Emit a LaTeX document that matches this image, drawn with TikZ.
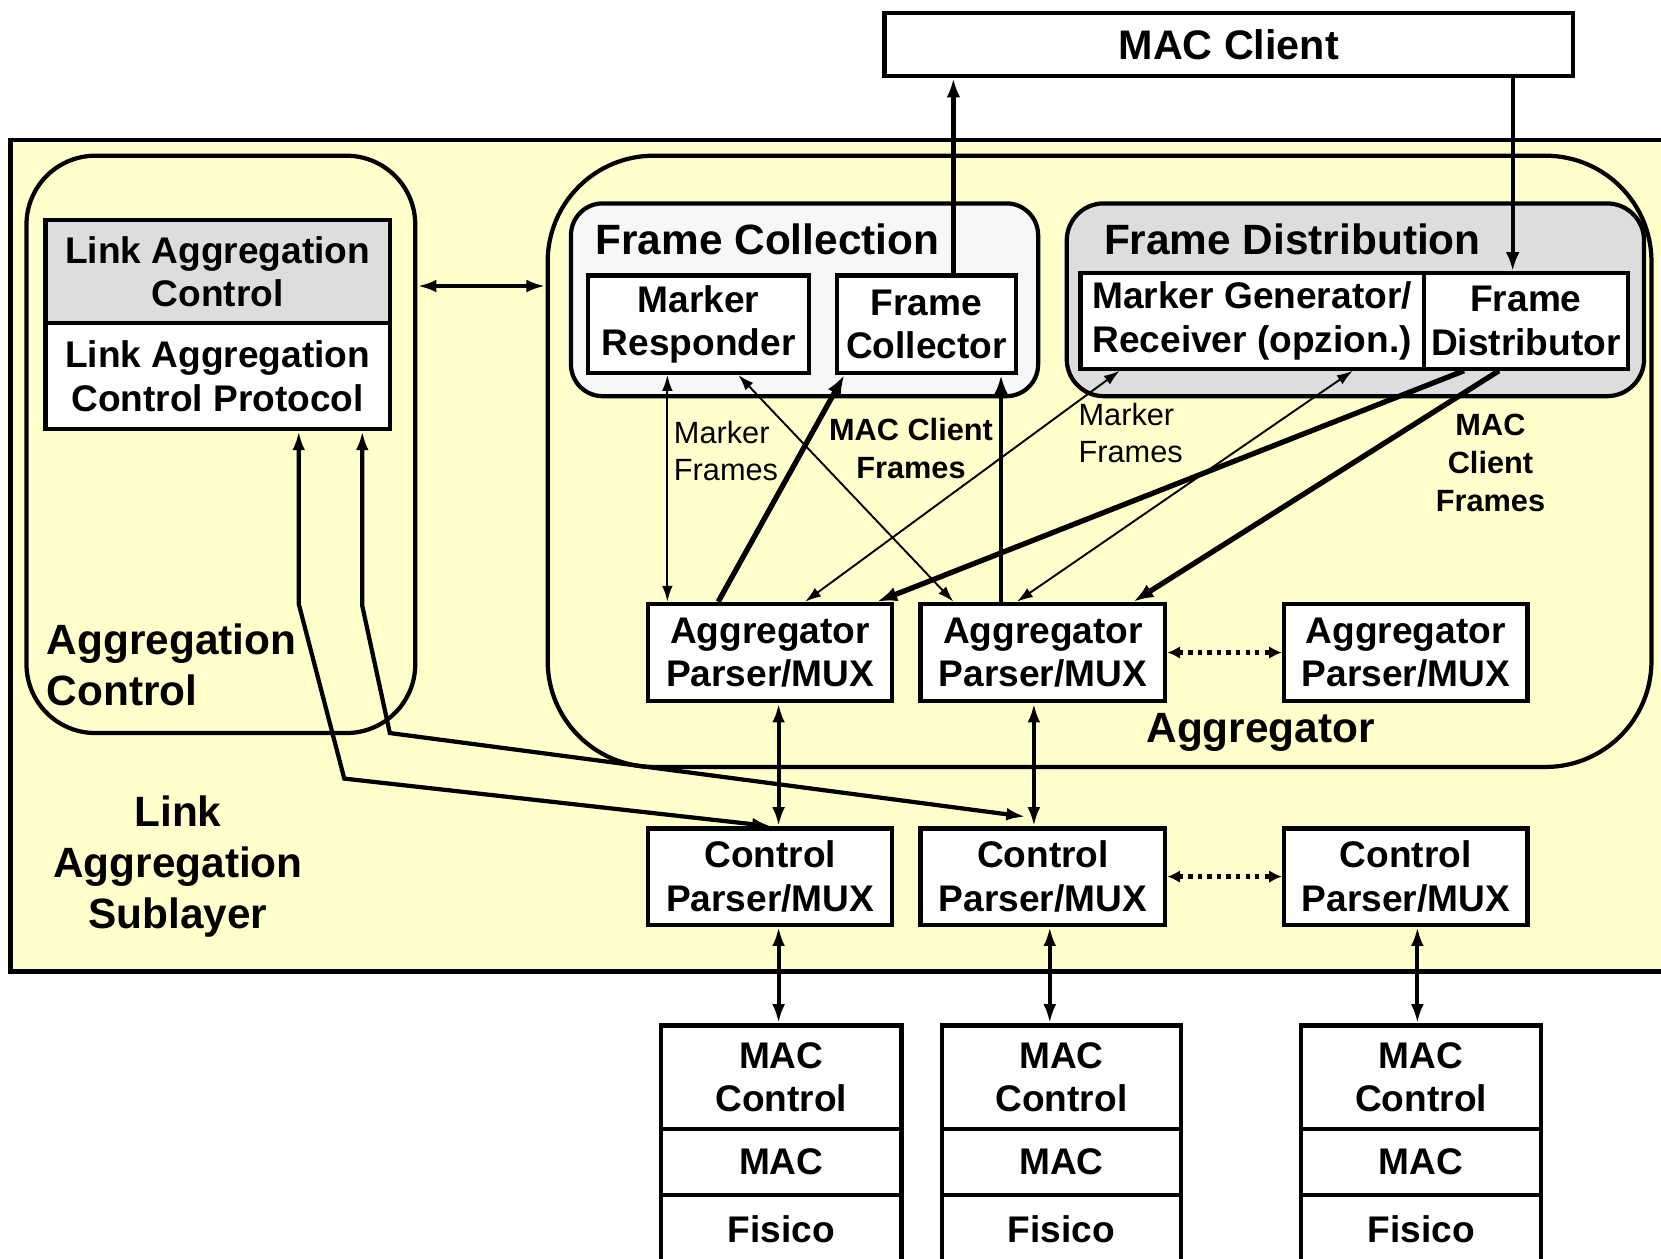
\documentclass[tikz,border=0pt]{standalone}
\usepackage{fontspec}
\setmainfont{Liberation Sans}
\usetikzlibrary{arrows.meta}
\definecolor{ylw}{HTML}{FFFFCC}
\definecolor{gry}{HTML}{DDDDDD}
\definecolor{lgry}{HTML}{F7F7F7}
\begin{document}
\begin{tikzpicture}[x=1pt,y=-1pt,
  every node/.style={inner sep=0pt},
  bx/.style={draw, line width=4pt, fill=white, align=center, anchor=north west,
     font=\fontsize{35}{41}\selectfont\bfseries},
  cont/.style={draw, line width=4pt, anchor=north west, fill=ylw},
  lbl/.style={font=\fontsize{40}{48}\selectfont\bfseries, align=center},
  smallr/.style={font=\fontsize{29}{35}\selectfont, align=left},
  smallb/.style={font=\fontsize{29}{36}\selectfont\bfseries, align=center},
  thinarr/.style={line width=1.8pt, {Latex[length=15pt,width=10pt]}-{Latex[length=15pt,width=10pt]}},
  medarr/.style={line width=3.6pt, {Latex[length=18pt,width=12pt]}-{Latex[length=18pt,width=12pt]}},
  onearr/.style={line width=4pt, -{Latex[length=18pt,width=13pt]}},
  thickarr/.style={line width=5pt, -{Latex[length=19pt,width=14pt]}},
  dotarr/.style={line width=4pt, dash pattern=on 4pt off 5pt, {Latex[length=12pt,width=12pt]}-{Latex[length=12pt,width=12pt]}},
]
\useasboundingbox (0,0) rectangle (1568,1188);
\clip (0,0) rectangle (1568,1188);
\fill[white] (0,0) rectangle (1568,1188);

% containers
\node[cont, minimum width=1620pt, minimum height=785pt] (sub) at (8,130) {};
\node[cont, rounded corners=65pt, minimum width=367pt, minimum height=545pt] (agc) at (23,145) {};
\node[cont, rounded corners=100pt, minimum width=1042pt, minimum height=577pt] (agg) at (515,145) {};
\node[cont, fill=lgry, rounded corners=30pt, minimum width=441pt, minimum height=182pt] (fcol) at (537,190) {};
\node[cont, fill=gry, rounded corners=35pt, minimum width=545pt, minimum height=182pt] (fdis) at (1005,190) {};

% top client
\node[bx, minimum width=650pt, minimum height=60pt, font=\fontsize{39}{46}\selectfont\bfseries] (mc) at (833,10) {MAC Client};

% aggregation control
\node[bx, fill=gry, minimum width=325pt, minimum height=97pt] (lac) at (41,206) {Link Aggregation\\Control};
\node[bx, minimum width=325pt, minimum height=100pt] (lacp) at (41,303) {Link Aggregation\\Control Protocol};

% frame collection / distribution
\node[bx, minimum width=209pt, minimum height=92pt] (mr) at (553,258) {Marker\\Responder};
\node[bx, minimum width=169pt, minimum height=92pt] (fc) at (788,258) {Frame\\Collector};
\node[bx, minimum width=324pt, minimum height=90pt] (mg) at (1018,256) {Marker Generator/\\Receiver (opzion.)};
\node[bx, minimum width=193pt, minimum height=90pt] (fd) at (1342,256) {Frame\\Distributor};

% parser/mux
\node[bx, minimum width=230pt, minimum height=92pt] (ap1) at (610,568) {Aggregator\\Parser/MUX};
\node[bx, minimum width=231pt, minimum height=92pt] (ap2) at (867,568) {Aggregator\\Parser/MUX};
\node[bx, minimum width=230pt, minimum height=92pt] (ap3) at (1210,568) {Aggregator\\Parser/MUX};
\node[bx, minimum width=230pt, minimum height=91pt] (cp1) at (610,780) {Control\\Parser/MUX};
\node[bx, minimum width=231pt, minimum height=91pt] (cp2) at (867,780) {Control\\Parser/MUX};
\node[bx, minimum width=230pt, minimum height=91pt] (cp3) at (1210,780) {Control\\Parser/MUX};

% MAC stacks
\node[bx, minimum width=227pt, minimum height=98pt] (s1a) at (622,966) {MAC\\Control};
\node[bx, minimum width=227pt, minimum height=62pt] (s1b) at (622,1064) {MAC};
\node[bx, minimum width=227pt, minimum height=64pt] (s1c) at (622,1126) {Fisico};
\node[bx, minimum width=226pt, minimum height=98pt] (s2a) at (887,966) {MAC\\Control};
\node[bx, minimum width=226pt, minimum height=62pt] (s2b) at (887,1064) {MAC};
\node[bx, minimum width=226pt, minimum height=64pt] (s2c) at (887,1126) {Fisico};
\node[bx, minimum width=227pt, minimum height=98pt] (s3a) at (1226,966) {MAC\\Control};
\node[bx, minimum width=227pt, minimum height=62pt] (s3b) at (1226,1064) {MAC};
\node[bx, minimum width=227pt, minimum height=64pt] (s3c) at (1226,1126) {Fisico};

% labels
\node[lbl, anchor=west] (tfc) at (562,226) {Frame Collection};
\node[lbl, anchor=west] (tfd) at (1042,226) {Frame Distribution};
\node[lbl, align=left, anchor=west] (tagc) at (44,628) {Aggregation\\Control};
\node[lbl] (tagg) at (1190,691) {Aggregator};
\node[lbl] (tsub) at (168,818) {Link\\Aggregation\\Sublayer};
\node[smallr, anchor=west] (mf1) at (636,426) {Marker\\Frames};
\node[smallb] (cf1) at (860,423) {MAC Client\\Frames};
\node[smallr, anchor=west] (mf2) at (1018,409) {Marker\\Frames};
\node[smallb] (cf2) at (1407,437) {MAC\\Client\\Frames};

% MAC client links
\draw[onearr] ([xshift=112pt]fc.north west) -- ([xshift=67pt]mc.south west);
\draw[onearr] ([xshift=595pt]mc.south west) -- ([xshift=86pt]fd.north west);
\draw[medarr] ([yshift=149.5pt]agc.east) -- ([yshift=165.5pt]agg.west);

% inside aggregator
\draw[thinarr] ([xshift=77pt]mr.south west) -- ([xshift=20pt]ap1.north west);
\draw[thinarr] ([xshift=144pt]mr.south west) -- ([xshift=33pt]ap2.north west);
\draw[thinarr] ([xshift=150pt]ap1.north west) -- ([xshift=39pt]mg.south west);
\draw[thinarr] ([xshift=93pt]ap2.north west) -- ([xshift=259pt]mg.south west);
\draw[thickarr] ([xshift=68pt]ap1.north west) -- ([xshift=9pt]fc.south west);
\draw[onearr] ([xshift=78pt]ap2.north west) -- ([xshift=157pt]fc.south west);
\draw[thickarr] ([xshift=40pt]fd.south west) -- ([xshift=218pt]ap1.north west);
\draw[thickarr] ([xshift=73pt]fd.south west) -- ([xshift=203pt]ap2.north west);

% vertical links
\draw[medarr] ([xshift=125pt]ap1.south west) -- ([xshift=125pt]cp1.north west);
\draw[medarr] ([xshift=109pt]ap2.south west) -- ([xshift=109pt]cp2.north west);
\draw[dotarr] (ap2.east) -- (ap3.west);
\draw[dotarr] (cp2.east) -- (cp3.west);
\draw[medarr] ([xshift=125pt]cp1.south west) -- ([xshift=113pt]s1a.north west);
\draw[medarr] ([xshift=124pt]cp2.south west) -- ([xshift=104pt]s2a.north west);
\draw[medarr] ([xshift=128pt]cp3.south west) -- ([xshift=112pt]s3a.north west);

% LACP links
\coordinate (b1) at (282,570);
\coordinate (b2) at (325,735);
\coordinate (b3) at (342,572);
\coordinate (b4) at (368,692);
\draw[medarr, line width=4pt, line join=miter] ([xshift=241pt]lacp.south west) -- (b1) -- (b2) -- ([xshift=118pt]cp1.north west);
\draw[medarr, line width=4pt, line join=miter] ([xshift=301pt]lacp.south west) -- (b3) -- (b4) -- ([xshift=101pt,yshift=9pt]cp2.north west);
\end{tikzpicture}
\end{document}
